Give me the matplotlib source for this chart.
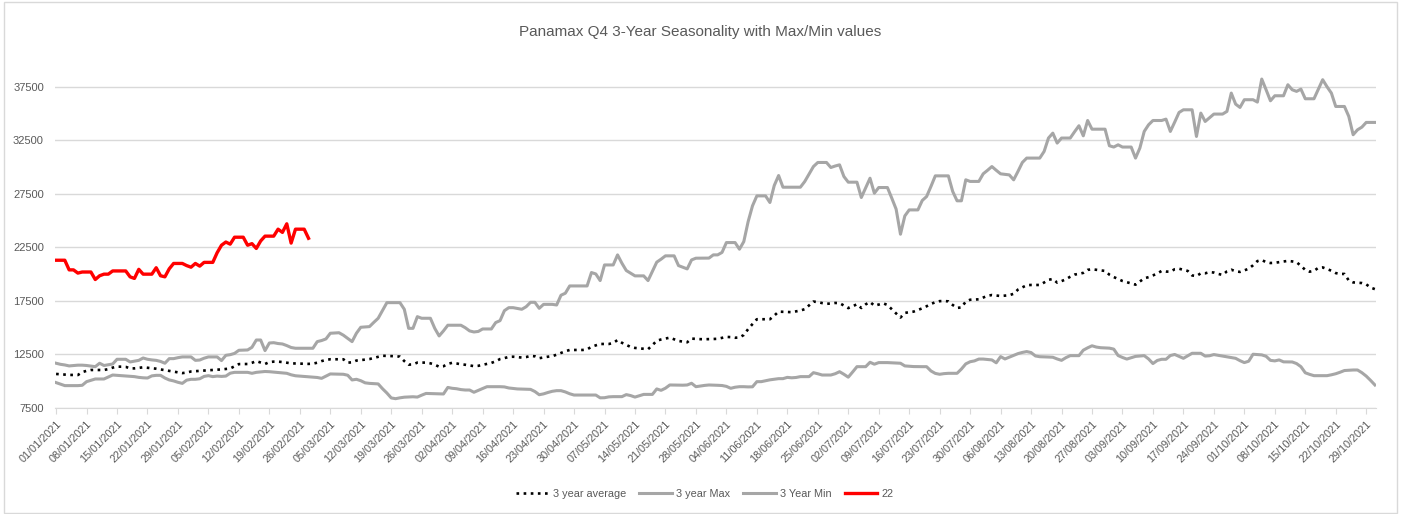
import matplotlib
matplotlib.use('Agg')
import matplotlib.pyplot as plt
import pandas as pd
from matplotlib.patches import Rectangle

# daily dates, 3-year stats mapped onto 2021
dates = pd.date_range('2021-01-01', '2021-10-31', freq='D')

avg_3y = [
    10680, 10650, 10620, 10590, 10580, 10580, 10850,
    10970, 11050, 11050, 11050, 11050, 11130, 11270,
    11360, 11360, 11340, 11200, 11200, 11250, 11300,
    11260, 11220, 11170, 11100, 11030, 10970, 10900,
    10830, 10760, 10810, 10910, 10940, 10970, 11000,
    11030, 11050, 11080, 11100, 11150, 11190, 11400,
    11600, 11610, 11610, 11720, 11880, 11740, 11610,
    11790, 11830, 11830, 11790, 11730, 11670, 11660,
    11650, 11640, 11620, 11640, 11730, 11880, 11990,
    12050, 12050, 12050, 12050, 11740, 11760, 11930,
    11970, 12020, 12070, 12180, 12280, 12380, 12370,
    12350, 12330, 12300, 11880, 11550, 11570, 11740,
    11740, 11740, 11670, 11550, 11350, 11400, 11620,
    11720, 11660, 11580, 11540, 11480, 11410, 11440,
    11530, 11620, 11710, 11860, 12070, 12160, 12270,
    12290, 12250, 12210, 12260, 12360, 12330, 12150,
    12220, 12290, 12340, 12480, 12640, 12800, 12920,
    12920, 12920, 12920, 12970, 13220, 13350, 13480,
    13480, 13480, 13570, 13850, 13590, 13400, 13200,
    13110, 13070, 13030, 12990, 13370, 13780, 13900,
    13990, 14070, 13910, 13760, 13700, 13640, 13980,
    13950, 13930, 13920, 13930, 13940, 13960, 14050,
    14140, 14120, 14060, 14090, 14320, 14870, 15340,
    15790, 15790, 15790, 15790, 16130, 16500, 16480,
    16460, 16450, 16520, 16600, 16730, 17090, 17440,
    17390, 17300, 17230, 17260, 17310, 17300, 17070,
    16830, 17000, 17190, 16840, 17180, 17400, 17060,
    17160, 17280, 17120, 16720, 16330, 15950, 16380,
    16450, 16500, 16650, 16810, 17000, 17220, 17380,
    17480, 17490, 17460, 17120, 16850, 16890, 17440,
    17610, 17630, 17650, 17820, 17980, 18050, 18000,
    17960, 17990, 18030, 18170, 18560, 18760, 18970,
    18990, 18990, 18990, 19220, 19470, 19550, 19210,
    19350, 19520, 19760, 19960, 20030, 20120, 20400,
    20460, 20410, 20360, 20300, 19950, 19730, 19540,
    19360, 19250, 19140, 19020, 19310, 19610, 19720,
    19880, 20070, 20300, 20240, 20230, 20460, 20510,
    20410, 20300, 19880, 19820, 20080, 20080, 20190,
    20150, 20020, 19930, 20260, 20420, 20260, 20210,
    20350, 20510, 20830, 21220, 21320, 21120, 21040,
    21060, 21120, 21180, 21240, 21190, 21120, 20770,
    20400, 20230, 20310, 20590, 20630, 20470, 20320,
    20100, 20020, 20020, 19410, 19230, 19200, 19170,
    19050, 18750, 18600,
]

max_3y = [
    11680, 11580, 11520, 11430, 11470, 11500, 11500,
    11470, 11420, 11360, 11680, 11470, 11540, 11610,
    12050, 12050, 12050, 11800, 11880, 11950, 12170,
    12050, 11990, 11950, 11850, 11680, 12110, 12110,
    12200, 12270, 12270, 12270, 11950, 11980, 12150,
    12270, 12270, 12270, 11930, 12420, 12480, 12600,
    12890, 12900, 12920, 13170, 13850, 13850, 12860,
    13570, 13600, 13520, 13480, 13330, 13150, 13080,
    13080, 13080, 13080, 13080, 13700, 13800, 13950,
    14480, 14500, 14530, 14300, 14000, 13700, 14480,
    15040, 15070, 15100, 15500, 15880, 16600, 17340,
    17340, 17340, 17340, 16720, 14940, 14940, 16030,
    15880, 15880, 15880, 14940, 14230, 14700, 15230,
    15230, 15230, 15230, 15000, 14700, 14600, 14650,
    14880, 14880, 14880, 15480, 15660, 16590, 16870,
    16870, 16800, 16720, 16960, 17370, 17370, 16810,
    17180, 17180, 17180, 17120, 18030, 18220, 18900,
    18900, 18900, 18900, 18900, 20150, 20020, 19400,
    20860, 20860, 20860, 21800, 21020, 20340, 20090,
    19840, 19840, 19840, 19400, 20260, 21120, 21400,
    21710, 21710, 21710, 20800, 20650, 20490, 21330,
    21490, 21490, 21490, 21500, 21800, 21800, 22030,
    22950, 22950, 22950, 22330, 23040, 24910, 26380,
    27310, 27310, 27310, 26690, 28280, 29210, 28120,
    28120, 28120, 28120, 28120, 28650, 29350, 30050,
    30430, 30430, 30430, 29960, 30100, 30210, 29120,
    28590, 28590, 28590, 27160, 28060, 28960, 27560,
    28090, 28090, 28090, 27100, 26070, 23730, 25440,
    26000, 26000, 26000, 26880, 27250, 28190, 29180,
    29180, 29180, 29180, 27720, 26850, 26850, 28810,
    28660, 28660, 28660, 29370, 29700, 30050, 29700,
    29370, 29320, 29270, 28810, 29600, 30430, 30840,
    30840, 30840, 30840, 31460, 32710, 33170, 32240,
    32710, 32710, 32710, 33300, 33860, 32920, 34350,
    33540, 33540, 33540, 33540, 31990, 31870, 32080,
    31870, 31870, 31870, 30840, 31780, 33330, 33950,
    34350, 34350, 34350, 34480, 33330, 34200, 35100,
    35350, 35350, 35350, 32860, 35040, 34260, 34600,
    34950, 34950, 34950, 35200, 36910, 35880, 35570,
    36290, 36290, 36290, 36070, 38220, 37220, 36190,
    36660, 36660, 36660, 37690, 37220, 37070, 37280,
    36380, 36380, 36380, 37270, 38160, 37500, 36910,
    35660, 35660, 35660, 34730, 33020, 33480, 33730,
    34170, 34170, 34170,
]

min_3y = [
    9870, 9730, 9590, 9590, 9590, 9590, 9620,
    9960, 10090, 10210, 10210, 10210, 10400, 10580,
    10550, 10520, 10500, 10460, 10430, 10360, 10320,
    10300, 10500, 10550, 10550, 10300, 10120, 10030,
    9900, 9800, 10100, 10180, 10180, 10230, 10450,
    10520, 10430, 10480, 10450, 10480, 10750, 10830,
    10830, 10830, 10830, 10740, 10830, 10870, 10910,
    10890, 10850, 10810, 10780, 10740, 10600, 10510,
    10480, 10450, 10430, 10390, 10350, 10270, 10480,
    10680, 10670, 10660, 10650, 10560, 10120, 10180,
    10050, 9850, 9800, 9780, 9750, 9300, 8900,
    8440, 8370, 8450, 8510, 8530, 8550, 8520,
    8700, 8860, 8850, 8840, 8820, 8810, 9420,
    9340, 9300, 9220, 9180, 9180, 8970, 9150,
    9320, 9490, 9490, 9490, 9490, 9470, 9370,
    9320, 9280, 9270, 9250, 9240, 9040, 8740,
    8820, 8950, 9060, 9120, 9120, 9000, 8830,
    8710, 8710, 8710, 8710, 8710, 8710, 8450,
    8460, 8540, 8560, 8560, 8560, 8750, 8660,
    8520, 8640, 8770, 8770, 8770, 9280, 9150,
    9350, 9650, 9640, 9630, 9630, 9650, 9810,
    9490, 9550, 9610, 9650, 9640, 9620, 9600,
    9520, 9340, 9440, 9490, 9490, 9470, 9480,
    9960, 9960, 10050, 10130, 10190, 10240, 10240,
    10360, 10320, 10350, 10430, 10430, 10430, 10800,
    10700, 10580, 10580, 10580, 10700, 10890, 10650,
    10380, 10860, 11360, 11360, 11360, 11770, 11590,
    11740, 11740, 11740, 11720, 11700, 11680, 11430,
    11400, 11370, 11360, 11360, 11360, 10960, 10730,
    10650, 10710, 10740, 10740, 10740, 11140, 11620,
    11820, 11900, 12070, 12070, 12030, 11990, 11720,
    12300, 12080, 12250, 12420, 12580, 12690, 12770,
    12680, 12360, 12290, 12280, 12260, 12240, 12080,
    11950, 12200, 12390, 12390, 12390, 12900, 13120,
    13310, 13190, 13130, 13110, 13090, 13000, 12400,
    12220, 12070, 12190, 12320, 12360, 12390, 12080,
    11650, 11940, 12050, 12050, 12400, 12500, 12320,
    12140, 12380, 12610, 12610, 12610, 12350, 12380,
    12490, 12420, 12350, 12290, 12220, 12140, 11920,
    11740, 11870, 12520, 12490, 12460, 12330, 11950,
    11900, 11990, 11810, 11800, 11800, 11650, 11360,
    10790, 10640, 10520, 10520, 10520, 10520, 10600,
    10700, 10840, 11000, 11030, 11050, 11050, 10800,
    10480, 10080, 9650,
]

# 2022 so far, plotted on the same day-of-year axis
y22 = [
    21300, 21300, 21300, 20400, 20400, 20100, 20200,
    20200, 20200, 19500, 19850, 20000, 20000, 20300,
    20300, 20300, 20300, 19750, 19600, 20450, 20000,
    20000, 20000, 20600, 19850, 19750, 20500, 21000,
    21000, 21000, 20800, 20650, 21000, 20750, 21100,
    21100, 21100, 22000, 22700, 23000, 22800, 23450,
    23450, 23450, 22700, 22850, 22400, 23100, 23550,
    23550, 23550, 24200, 23900, 24700, 22900, 24200,
    24200, 24200, 23350,
]

title = 'Panamax Q4 3-Year Seasonality with Max/Min values'
txt = '#595959'
grid_c = '#d9d9d9'

plt.rcParams['font.family'] = ['Liberation Sans', 'DejaVu Sans']

fig = plt.figure(figsize=(14.01, 5.14), dpi=100)
ax = fig.add_axes([55 / 1401, 106 / 514, 1321 / 1401, 348 / 514])

l_avg, = ax.plot(dates, avg_3y, color='black', lw=1.9, linestyle=(0, (1, 1.7)))
l_max, = ax.plot(dates, max_3y, color='#a6a6a6', lw=2.2, solid_joinstyle='round')
l_min, = ax.plot(dates, min_3y, color='#a6a6a6', lw=2.2, solid_joinstyle='round')
l_22, = ax.plot(dates[:len(y22)], y22, color='#ff0000', lw=2.4, solid_joinstyle='round')

ax.set_xlim(dates[0] - pd.Timedelta(hours=6), dates[-1] + pd.Timedelta(hours=6))
ax.set_ylim(7500, 40000)
ax.set_yticks(range(7500, 40000, 5000))
ax.yaxis.grid(True, color=grid_c, lw=1)
ax.set_axisbelow(True)

for s in ['left', 'right', 'top']:
    ax.spines[s].set_visible(False)
ax.spines['bottom'].set_color(grid_c)

tick_days = dates[::7]
ax.set_xticks(tick_days)
ax.set_xticklabels([d.strftime('%d/%m/%Y') for d in tick_days], rotation=45,
                   ha='right', va='top', rotation_mode='anchor')
ax.tick_params(axis='x', length=4, color=grid_c, labelsize=7.8, labelcolor=txt, pad=4)
ax.tick_params(axis='y', length=0, labelsize=8, labelcolor=txt, pad=8)

fig.text(0.5, 1 - 32 / 514, title, ha='center', va='center', fontsize=11, color=txt)

fig.legend([l_avg, l_max, l_min, l_22], ['3 year average', '3 year Max', '3 Year Min', '22'],
           loc='center', bbox_to_anchor=(0.503, 1 - 494 / 514), ncol=4, frameon=False,
           fontsize=7.8, labelcolor=txt, handlelength=3.0, handletextpad=0.4, columnspacing=1.2)

# chart border
fig.patches.append(Rectangle((0.003, 0.002), 0.994, 0.995, transform=fig.transFigure,
                             fill=False, edgecolor=grid_c, lw=1))

fig.savefig('out.png', dpi=100)
